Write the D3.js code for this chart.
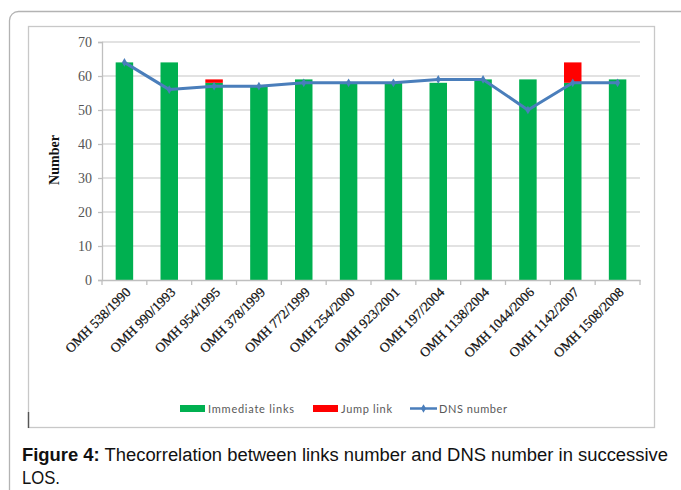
<!DOCTYPE html>
<html><head><meta charset="utf-8">
<script src="https://cdn.jsdelivr.net/npm/d3@7"></script>
<style>body{margin:0;background:#fff;}svg{display:block;}</style>
</head><body>
<script>
const categories = ["OMH 538/1990","OMH 990/1993","OMH 954/1995","OMH 378/1999","OMH 772/1999","OMH 254/2000","OMH 923/2001","OMH 197/2004","OMH 1138/2004","OMH 1044/2006","OMH 1142/2007","OMH 1508/2008"];
const immediateLinks = [64,64,58,57,59,58,58,58,59,59,58,59];
const jumpLink = [0,0,1,0,0,0,0,0,0,0,6,0];
const dnsNumber = [64,56,57,57,58,58,58,59,59,50,58,58];
const yTicks = [0,10,20,30,40,50,60,70];
const seriesNames = ["Immediate links","Jump link","DNS number"];

const W = 681, H = 490;
const svg = d3.select("body").append("svg").attr("width", W).attr("height", H);

// outer frame
svg.append("rect").attr("x",9.5).attr("y",11.5).attr("width",720).attr("height",560)
  .attr("rx",9).attr("fill","none").attr("stroke","#b3b3b3").attr("stroke-width",1.3);
// inner chart frame
svg.append("rect").attr("x",28.5).attr("y",26.5).attr("width",626).attr("height",401)
  .attr("fill","#fff").attr("stroke","#c8c8c8").attr("stroke-width",1.3);
svg.append("line").attr("x1",28.5).attr("x2",28.5).attr("y1",412).attr("y2",428)
  .attr("stroke","#555").attr("stroke-width",1.4);

const x0 = 102, x1 = 640, yTop = 42, yBot = 280;
const x = d3.scaleBand().domain(categories).range([x0, x1]).paddingInner(0.61).paddingOuter(0.305);
const xb = d3.scaleBand().domain(categories).range([x0, x1]);
const y = d3.scaleLinear().domain([0,70]).range([yBot, yTop]);

// gridlines
svg.append("g").selectAll("line").data(yTicks.filter(d=>d>0)).join("line")
  .attr("x1", x0).attr("x2", x1).attr("y1", d=>y(d)).attr("y2", d=>y(d))
  .attr("stroke","#d9d9d9").attr("stroke-width",1.5);

// y axis
const yAxis = svg.append("g").attr("transform",`translate(${x0},0)`)
  .call(d3.axisLeft(y).tickValues(yTicks).tickSize(4).tickPadding(6));
yAxis.select(".domain").attr("stroke","#bfbfbf").attr("stroke-width",1.3);
yAxis.selectAll(".tick line").attr("stroke","#bfbfbf").attr("stroke-width",1.3);
yAxis.selectAll(".tick text").attr("font-family","'Liberation Serif', serif").attr("font-size",14).attr("fill","#555");

// bars
svg.append("g").selectAll("rect").data(categories).join("rect")
  .attr("x", d=>x(d)).attr("width", x.bandwidth())
  .attr("y", (d,i)=>y(immediateLinks[i])).attr("height",(d,i)=>y(0)-y(immediateLinks[i]))
  .attr("fill","#00b050");
svg.append("g").selectAll("rect").data(categories.filter((d,i)=>jumpLink[i]>0)).join("rect")
  .attr("x", d=>x(d)).attr("width", x.bandwidth())
  .attr("y", d=>{const i=categories.indexOf(d);return y(immediateLinks[i]+jumpLink[i]);})
  .attr("height", d=>{const i=categories.indexOf(d);return y(immediateLinks[i])-y(immediateLinks[i]+jumpLink[i]);})
  .attr("fill","#ff0000");

// x axis
const xAxis = svg.append("g").attr("transform",`translate(0,${yBot})`)
  .call(d3.axisBottom(xb).tickSize(0).tickFormat(""));
xAxis.select(".domain").attr("stroke","#bfbfbf").attr("stroke-width",1.3);
xAxis.selectAll(".tick").remove();
const bounds = d3.range(categories.length+1).map(i=> i<categories.length ? xb(categories[i]) : x1);
svg.append("g").selectAll("line").data(bounds).join("line")
  .attr("x1",d=>d).attr("x2",d=>d).attr("y1",yBot).attr("y2",yBot+5)
  .attr("stroke","#bfbfbf").attr("stroke-width",1.3);

// x labels
svg.append("g").selectAll("text").data(categories).join("text")
  .attr("transform", d=>`translate(${xb(d)+xb.bandwidth()/2+7},${yBot+13}) rotate(-45)`)
  .attr("text-anchor","end").attr("font-family","'Liberation Serif', serif").attr("font-size",13.5)
  .attr("fill","#111").attr("stroke","#111").attr("stroke-width",0.25).text(d=>d);

// y title
svg.append("text").attr("transform",`translate(59,160) rotate(-90)`).attr("text-anchor","middle")
  .attr("font-family","'Liberation Serif', serif").attr("font-weight","bold").attr("font-size",14)
  .attr("fill","#111").text("Number");

// line
const line = d3.line().x((d,i)=>xb(categories[i])+xb.bandwidth()/2).y(d=>y(d));
svg.append("path").datum(dnsNumber).attr("d",line).attr("fill","none")
  .attr("stroke","#4a7ebb").attr("stroke-width",3).attr("stroke-linejoin","round");
const star = d3.symbol().type(d3.symbolDiamond).size(22);
svg.append("g").selectAll("path").data(dnsNumber).join("path")
  .attr("transform",(d,i)=>`translate(${xb(categories[i])+xb.bandwidth()/2},${y(d)})`)
  .attr("d",star).attr("fill","#4a7ebb");

// legend
const lg = svg.append("g").attr("font-family","Lato, 'Open Sans', sans-serif").attr("font-size",11).attr("fill","#595959");
lg.append("rect").attr("x",180).attr("y",405).attr("width",25).attr("height",7).attr("fill","#00b050");
lg.append("text").attr("x",208).attr("y",412.5).text(seriesNames[0]).attr("textLength",86);
lg.append("rect").attr("x",313).attr("y",405).attr("width",25).attr("height",7).attr("fill","#ff0000");
lg.append("text").attr("x",341).attr("y",412.5).text(seriesNames[1]).attr("textLength",51);
lg.append("line").attr("x1",410).attr("x2",437).attr("y1",408.5).attr("y2",408.5).attr("stroke","#4a7ebb").attr("stroke-width",2.5);
lg.append("path").attr("transform","translate(423.5,408.5)").attr("d",d3.symbol().type(d3.symbolDiamond).size(22)).attr("fill","#4a7ebb");
lg.append("text").attr("x",439).attr("y",412.5).text(seriesNames[2]).attr("textLength",68);

// caption
const cap = svg.append("text").attr("x",22).attr("y",461).attr("font-family","'Liberation Sans', Arial, sans-serif")
  .attr("font-size",18).attr("fill","#111").attr("textLength",646).attr("lengthAdjust","spacingAndGlyphs");
cap.append("tspan").attr("font-weight","bold").text("Figure 4:");
cap.append("tspan").text(" Thecorrelation between links number and DNS number in successive");
svg.append("text").attr("x",22).attr("y",484).attr("font-family","'Liberation Sans', Arial, sans-serif")
  .attr("font-size",18).attr("fill","#111").attr("textLength",38).attr("lengthAdjust","spacingAndGlyphs").text("LOS.");
</script>
</body></html>
